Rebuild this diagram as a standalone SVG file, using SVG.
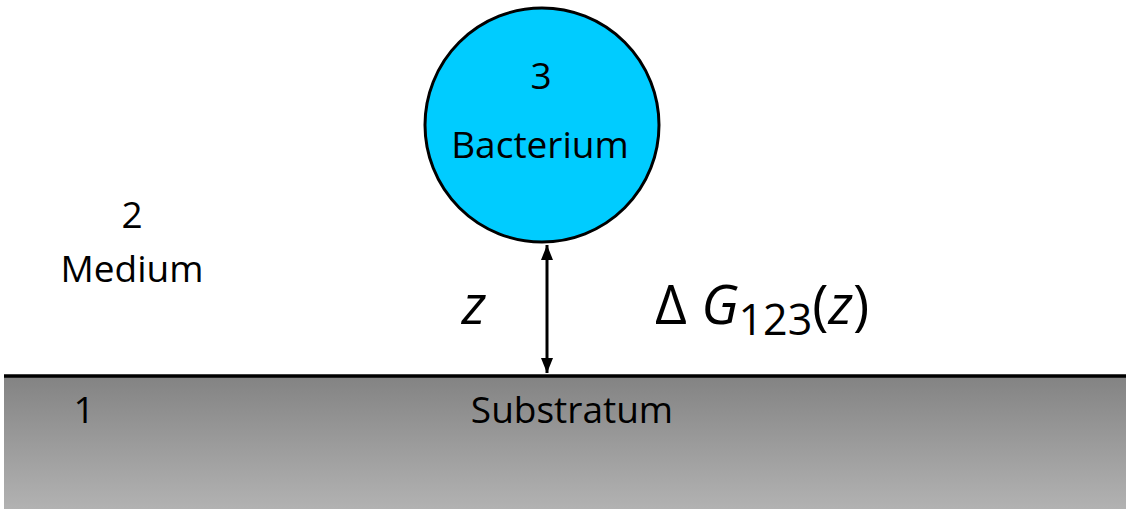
<svg xmlns="http://www.w3.org/2000/svg" width="1126" height="509" viewBox="0 0 1126 509">
<style>
text{font-family:"Open Sans","Liberation Sans",sans-serif;fill:#000}
.lbl{font-size:37px}
.big{font-size:55px}
</style>
<defs>
<linearGradient id="gs" x1="0" y1="0" x2="0" y2="1">
<stop offset="0" stop-color="#838383"/>
<stop offset="1" stop-color="#b2b2b2"/>
</linearGradient>
<marker id="ah" viewBox="0 0 10 10" refX="10" refY="5" markerWidth="5.5" markerHeight="5" orient="auto-start-reverse" markerUnits="strokeWidth">
<path d="M0,1 L10,5 L0,9 z" fill="#000"/>
</marker>
</defs>
<rect width="1126" height="509" fill="#fff"/>
<g id="substratum">
<rect x="4" y="376" width="1122" height="133" fill="url(#gs)"/>
<line x1="4" y1="376" x2="1126" y2="376" stroke="#000" stroke-width="3.5"/>
<text class="lbl" x="84" y="423" text-anchor="middle">1</text>
<text class="lbl" x="572" y="423" text-anchor="middle">Substratum</text>
</g>
<g id="medium">
<text class="lbl" x="132" y="228" text-anchor="middle">2</text>
<text class="lbl" x="132" y="282" text-anchor="middle">Medium</text>
</g>
<g id="bacterium">
<circle cx="542" cy="125" r="117" fill="#00ccff" stroke="#000" stroke-width="3"/>
<text class="lbl" x="541" y="89" text-anchor="middle">3</text>
<text class="lbl" x="540" y="158" text-anchor="middle">Bacterium</text>
</g>
<g id="connectors">
<line x1="547" y1="245" x2="547" y2="373" stroke="#000" stroke-width="3" marker-start="url(#ah)" marker-end="url(#ah)"/>
</g>
<g id="labels">
<text class="big" x="474" y="324" text-anchor="middle" font-style="italic">z</text>
<text class="big" x="655" y="324">Δ <tspan font-style="italic">G</tspan><tspan font-size="43" dy="11">123</tspan><tspan dy="-11">(</tspan><tspan font-style="italic">z</tspan>)</text>
</g>
</svg>
